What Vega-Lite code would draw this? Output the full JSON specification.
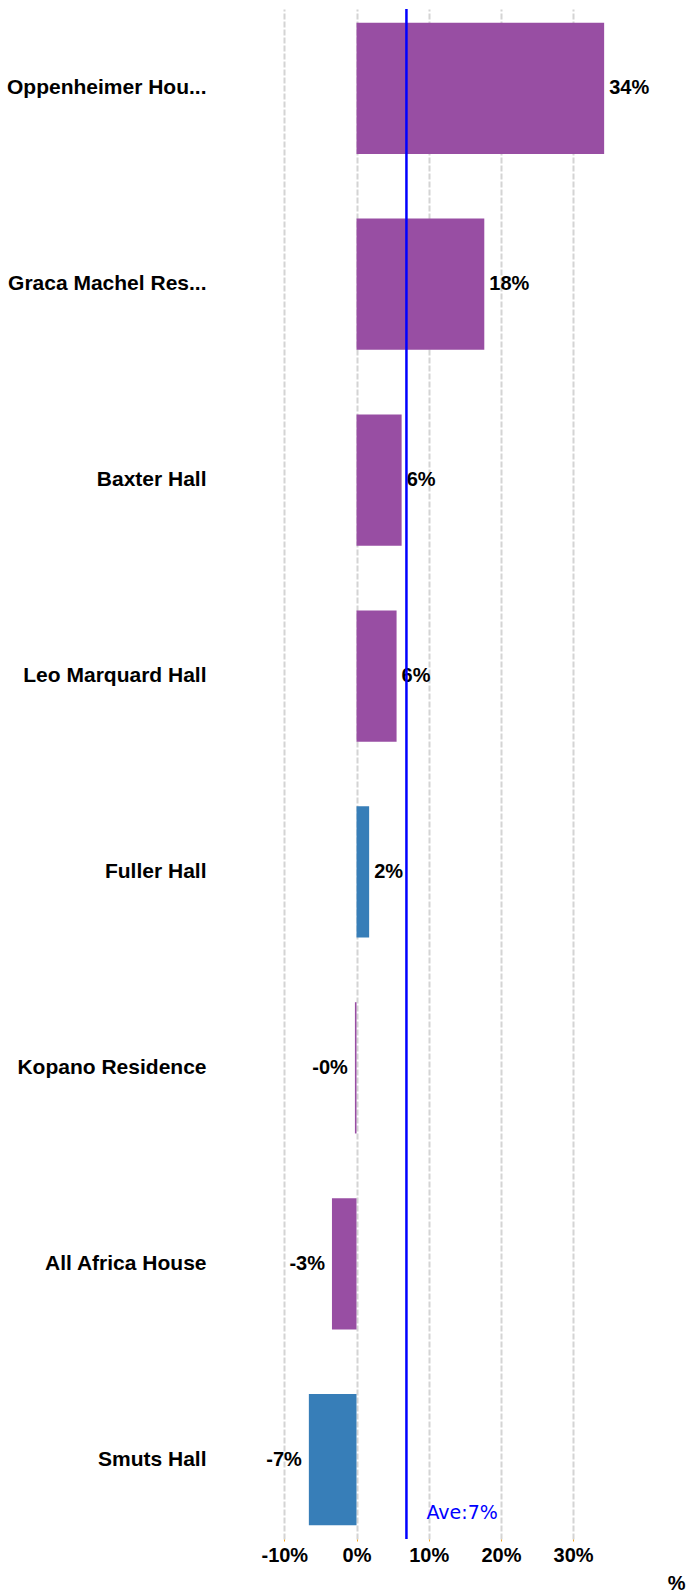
{
  "$schema": "https://vega.github.io/schema/vega-lite/v6.json",
  "width": 470,
  "height": 1530,
  "autosize": {"type": "none"},
  "padding": {"left": 215, "top": 9, "right": 2, "bottom": 54},
  "config": {
    "view": {"stroke": null},
    "font": "Liberation Sans",
    "locale": {"number": {"decimal": ".", "thousands": ",", "grouping": [3], "currency": ["$", ""], "minus": "-"}}
  },
  "data": {
    "values": [
      {"residence": "Oppenheimer Hou...", "value": 0.343, "group": "Group A"},
      {"residence": "Graca Machel Res...", "value": 0.177, "group": "Group A"},
      {"residence": "Baxter Hall", "value": 0.0625, "group": "Group A"},
      {"residence": "Leo Marquard Hall", "value": 0.0555, "group": "Group A"},
      {"residence": "Fuller Hall", "value": 0.0175, "group": "Group B"},
      {"residence": "Kopano Residence", "value": -0.0022, "group": "Group A"},
      {"residence": "All Africa House", "value": -0.034, "group": "Group A"},
      {"residence": "Smuts Hall", "value": -0.066, "group": "Group B"}
    ]
  },
  "transform": [
    {"calculate": "(datum.value < 0 ? '-' : '') + format(abs(datum.value), '.0%')", "as": "label"}
  ],
  "layer": [
    {
      "mark": {"type": "bar"},
      "encoding": {
        "y": {
          "field": "residence", "type": "nominal", "sort": null,
          "scale": {"paddingInner": 0.33, "paddingOuter": 0.07},
          "axis": {"title": null, "domain": false, "ticks": false, "labelFontSize": 21, "labelFontWeight": "bold", "labelColor": "black", "labelPadding": 9, "labelLimit": 300}
        },
        "x": {
          "field": "value", "type": "quantitative",
          "scale": {"domain": [-0.196, 0.455], "nice": false, "zero": false},
          "axis": {
            "values": [-0.1, 0, 0.1, 0.2, 0.3], "format": ".0%",
            "grid": true, "gridColor": "#d4d4d4", "gridDash": [6, 2], "gridWidth": 2,
            "domain": false, "tickColor": "#f5a623", "tickSize": 2,
            "labelFontSize": 20, "labelFontWeight": "bold", "labelColor": "black", "labelPadding": 4,
            "title": "%", "titleAnchor": "end", "titleFontSize": 20, "titleFontWeight": "bold", "titleColor": "black", "titlePadding": 8
          }
        },
        "color": {
          "field": "group", "type": "nominal",
          "scale": {"domain": ["Group A", "Group B"], "range": ["#984EA3", "#377EB8"]},
          "legend": null
        }
      }
    },
    {
      "transform": [{"filter": "datum.value >= 0"}],
      "mark": {"type": "text", "align": "left", "dx": 5, "baseline": "middle", "fontSize": 20, "fontWeight": "bold", "color": "black"},
      "encoding": {
        "y": {"field": "residence", "type": "nominal", "sort": null},
        "x": {"field": "value", "type": "quantitative"},
        "text": {"field": "label", "type": "nominal"}
      }
    },
    {
      "transform": [{"filter": "datum.value < 0"}],
      "mark": {"type": "text", "align": "right", "dx": -7, "baseline": "middle", "fontSize": 20, "fontWeight": "bold", "color": "black"},
      "encoding": {
        "y": {"field": "residence", "type": "nominal", "sort": null},
        "x": {"field": "value", "type": "quantitative"},
        "text": {"field": "label", "type": "nominal"}
      }
    },
    {
      "mark": {"type": "rule", "color": "#0000ff", "strokeWidth": 2.5},
      "encoding": {
        "x": {"aggregate": "mean", "field": "value", "type": "quantitative"}
      }
    },
    {
      "transform": [
        {"aggregate": [{"op": "mean", "field": "value", "as": "avg"}]},
        {"calculate": "'Ave:' + format(datum.avg, '.0%')", "as": "avglabel"}
      ],
      "mark": {"type": "text", "align": "left", "baseline": "alphabetic", "dx": 20, "dy": 59, "fontSize": 19, "font": "DejaVu Sans", "color": "#0000ff"},
      "encoding": {
        "x": {"field": "avg", "type": "quantitative"},
        "y": {"datum": "Smuts Hall"},
        "text": {"field": "avglabel", "type": "nominal"}
      }
    }
  ]
}
